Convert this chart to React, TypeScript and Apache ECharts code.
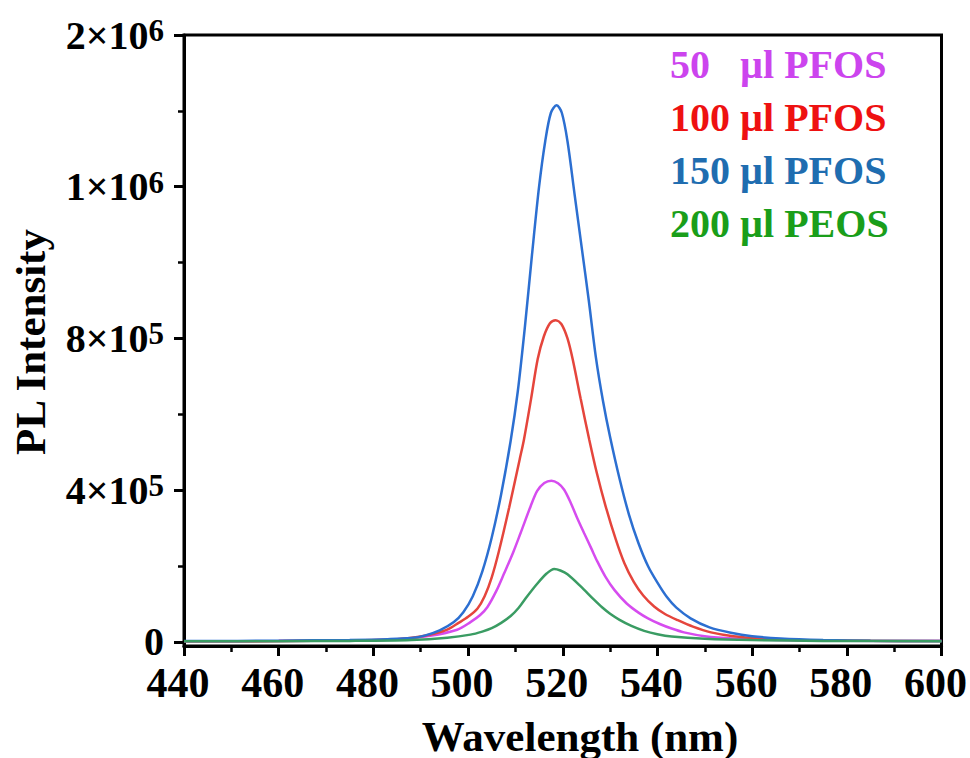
import React, { useEffect, useRef } from "react";
import * as echarts from "echarts";

const FONT = "'Liberation Serif', 'Times New Roman', Times, serif";

// Series: [wavelength (nm), PL intensity]
const pfos50: [number, number][] = [
  [440, 1500], [460, 2000], [475, 3500], [485, 6000], [492, 16000], [497.7, 32000],
  [500.5, 52000], [502.5, 70000], [504.1, 92000], [506, 135000], [507.6, 180000],
  [509.5, 235000], [511.1, 287000], [513.2, 357000], [514.6, 398000], [516.1, 419000],
  [517.6, 425000], [519, 418000], [520.3, 401000], [521.7, 366000], [523, 328000],
  [524.5, 287000], [526, 247000], [527.3, 212000], [529, 172000], [530.9, 137000],
  [533.5, 101000], [536, 77000], [538, 62000], [540.5, 47000], [543, 35000],
  [545.6, 25000], [550, 15000], [556, 9000], [565, 5000], [580, 3000], [600, 2000],
];

const pfos100: [number, number][] = [
  [440, 1500], [460, 2000], [475, 4000], [485, 7000], [490, 14000], [493, 22000],
  [495.6, 32000], [498, 50000], [500, 66000], [502, 88000], [503.5, 120000],
  [505, 170000], [506.5, 238000], [508.7, 355000], [510.9, 481000], [511.8, 533000],
  [513.3, 640000], [514.7, 745000], [516, 805000], [517.3, 840000], [518.5, 848000],
  [519.7, 838000], [521, 800000], [522.1, 745000], [523.8, 640000], [525.6, 533000],
  [527.2, 445000], [529, 360000], [531.2, 270000], [533, 208000], [535, 158000],
  [537, 122000], [539.3, 93000], [541.5, 74000], [544.3, 57000], [547.5, 40000],
  [551.3, 25000], [556, 15000], [562, 9000], [570, 5000], [585, 3000], [600, 2000],
];

const pfos150: [number, number][] = [
  [440, 2000], [460, 3000], [475, 5000], [483, 7000], [488, 10000], [491, 17000],
  [494, 30000], [497, 52000], [499, 78000], [501, 120000], [503, 185000], [505, 275000],
  [507, 390000], [509, 530000], [510.5, 660000], [512, 830000], [513.5, 1020000],
  [515, 1200000], [516.3, 1320000], [517.5, 1395000], [518.7, 1415000], [519.8, 1395000],
  [521, 1320000], [522.5, 1180000], [524, 1040000], [525.5, 900000], [527, 750000],
  [528.5, 635000], [530, 540000], [532, 430000], [534, 335000], [536, 260000],
  [538, 200000], [540, 156000], [542, 118000], [544, 90000], [547, 62000], [551, 38000],
  [555.5, 24000], [560, 15000], [566, 9000], [575, 5000], [585, 3000], [600, 2000],
];

const peos200: [number, number][] = [
  [440, 1500], [460, 1800], [475, 2500], [488, 5000], [495.6, 11000], [500.5, 19000],
  [503, 27000], [505, 36000], [507, 50000], [509, 68000], [510.7, 90000], [512.5, 120000],
  [514.6, 153000], [516.6, 180000], [518.2, 192000], [519.5, 188000], [521, 178000],
  [523.8, 146000], [526.6, 111000], [528.3, 91000], [530, 74000], [532, 58000],
  [534.5, 42000], [537.2, 29000], [540, 20000], [543, 14000], [550, 8000], [560, 4500],
  [575, 2500], [600, 1800],
];

const seriesNames = ["50   µl PFOS", "100 µl PFOS", "150 µl PFOS", "200 µl PEOS"];
const lineColors = ["#d64cef", "#e5453c", "#2c6fd1", "#3a9c63"];
const textColors = ["#cc44ee", "#ee1111", "#1f6db0", "#1a9e1a"];

const xTicks = { min: 440, max: 600, interval: 20 };
const yMajorValues = [0, 400000, 800000, 1200000, 1600000];
const yMajorLabels = ["{b|0}", "{b|4×10}{s|5}", "{b|8×10}{s|5}", "{b|1×10}{s|6}", "{b|2×10}{s|6}"];
const yMinorValues = [200000, 600000, 1000000, 1400000];

export default function App() {
  const ref = useRef<HTMLDivElement>(null);

  useEffect(() => {
    if (!ref.current) return;
    const chart = echarts.init(ref.current, undefined, { renderer: "svg" });
    const datasets = [pfos50, pfos100, pfos150, peos200];

    const option: any = {
      animation: false,
      backgroundColor: "#ffffff",
      grid: {
        left: 184,
        top: 35,
        width: 758,
        height: 611,
        show: true,
        borderColor: "#000",
        borderWidth: 3,
        backgroundColor: "transparent",
      },
      xAxis: {
        type: "value",
        min: xTicks.min,
        max: xTicks.max,
        interval: xTicks.interval,
        axisLine: { onZero: false, lineStyle: { color: "#000", width: 3 } },
        axisTick: { show: true, inside: false, length: 10, lineStyle: { color: "#000", width: 3 } },
        minorTick: { show: true, splitNumber: 2, length: 6, lineStyle: { color: "#000", width: 2.5 } },
        splitLine: { show: false },
        minorSplitLine: { show: false },
        axisLabel: {
          margin: 16,
          padding: [0, 12, 0, 0],
          fontFamily: FONT,
          fontWeight: "bold",
          fontSize: 42,
          color: "#000",
        },
      },
      yAxis: [
        {
          type: "value",
          min: -11000,
          max: 1600000,
          position: "left",
          axisLine: { show: true, lineStyle: { color: "#000", width: 3 } },
          axisTick: {
            show: true,
            inside: false,
            length: 10,
            customValues: yMajorValues,
            lineStyle: { color: "#000", width: 3 },
          },
          splitLine: { show: false },
          axisLabel: {
            customValues: yMajorValues,
            margin: 20,
            formatter: (v: number) => {
              const i = yMajorValues.indexOf(v);
              return i >= 0 ? yMajorLabels[i] : "";
            },
            rich: {
              b: {
                fontFamily: FONT,
                fontWeight: "bold",
                fontSize: 40,
                lineHeight: 40,
                color: "#000",
                verticalAlign: "bottom",
              },
              s: {
                fontFamily: FONT,
                fontWeight: "bold",
                fontSize: 31,
                lineHeight: 31,
                color: "#000",
                verticalAlign: "top",
                padding: [0, 0, 22, 0],
              },
            },
          },
        },
        {
          type: "value",
          min: -11000,
          max: 1600000,
          position: "left",
          axisLine: { show: false },
          axisLabel: { show: false },
          splitLine: { show: false },
          axisTick: {
            show: true,
            inside: false,
            length: 6,
            customValues: yMinorValues,
            lineStyle: { color: "#000", width: 2.5 },
          },
        },
      ],
      series: datasets.map((d, i) => ({
        name: seriesNames[i],
        type: "line",
        data: d,
        showSymbol: false,
        smooth: 0.3,
        lineStyle: { color: lineColors[i], width: 2.5 },
        itemStyle: { color: lineColors[i] },
        z: 3 + i,
      })),
      graphic: [
        ...seriesNames.map((n, i) => ({
          type: "text",
          left: 670,
          top: 65 + i * 53.3 - 21,
          style: {
            text: n,
            fontFamily: FONT,
            fontWeight: "bold",
            fontSize: 40,
            fill: textColors[i],
          },
        })),
        {
          type: "text",
          x: 580,
          y: 736,
          style: {
            text: "Wavelength (nm)",
            fontFamily: FONT,
            fontWeight: "bold",
            fontSize: 43,
            fill: "#000",
            align: "center",
            verticalAlign: "middle",
          },
        },
        {
          type: "text",
          x: 30,
          y: 342,
          rotation: Math.PI / 2,
          style: {
            text: "PL Intensity",
            fontFamily: FONT,
            fontWeight: "bold",
            fontSize: 43,
            fill: "#000",
            align: "center",
            verticalAlign: "middle",
          },
        },
      ],
    };

    chart.setOption(option);
    return () => chart.dispose();
  }, []);

  return (
    <div
      ref={ref}
      style={{ position: "fixed", left: 0, top: 0, width: 970, height: 758, background: "#fff" }}
    />
  );
}
